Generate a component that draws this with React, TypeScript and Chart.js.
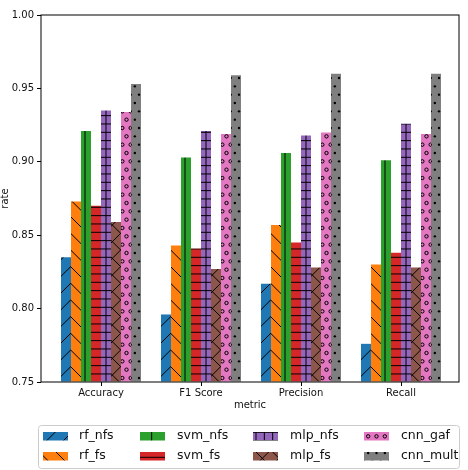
import { useEffect, useRef } from 'react';
import { Chart, registerables } from 'chart.js';

Chart.register(...registerables);

// Metrics on the x axis
const categories = ['Accuracy', 'F1 Score', 'Precision', 'Recall'];

// One value per metric for every model variant
const rfNfs = [0.835, 0.796, 0.817, 0.776];
const rfFs = [0.873, 0.843, 0.857, 0.830];
const svmNfs = [0.921, 0.903, 0.906, 0.901];
const svmFs = [0.870, 0.841, 0.845, 0.838];
const mlpNfs = [0.935, 0.921, 0.918, 0.926];
const mlpFs = [0.859, 0.827, 0.828, 0.828];
const cnnGaf = [0.934, 0.919, 0.920, 0.919];
const cnnMult = [0.953, 0.959, 0.960, 0.960];

const seriesNames = ['rf_nfs', 'rf_fs', 'svm_nfs', 'svm_fs', 'mlp_nfs', 'mlp_fs', 'cnn_gaf', 'cnn_mult'];
const yTicks = [0.75, 0.8, 0.85, 0.9, 0.95, 1.0];

// Styling per series (tab10 colours with hatch kinds)
const seriesColors = ['#1f77b4', '#ff7f0e', '#2ca02c', '#d62728', '#9467bd', '#8c564b', '#e377c2', '#7f7f7f'];
const seriesHatches = ['/', '\\', '|', '-', '+', 'x', 'o', '.'];

const FONT = 'DejaVu Sans';
const TEXT = '#111';

// Builds a repeating tile: base colour plus black hatch strokes.
function hatchPattern(color: string, kind: string): CanvasPattern {
  const T = 50;
  const wide = T / 3;
  const narrow = T / 6;
  const c = document.createElement('canvas');
  c.width = T;
  c.height = T;
  const g = c.getContext('2d')!;
  g.fillStyle = color;
  g.fillRect(0, 0, T, T);
  g.strokeStyle = '#000';
  g.fillStyle = '#000';
  g.lineWidth = 1;
  const line = (x1: number, y1: number, x2: number, y2: number) => {
    g.beginPath();
    g.moveTo(x1, y1);
    g.lineTo(x2, y2);
    g.stroke();
  };
  const diagUp = (off: number) => {
    for (let k = -1; k <= 7; k++) {
      const s = off + k * wide;
      line(s, 0, s - T, T);
    }
  };
  const diagDown = (off: number) => {
    for (let k = -4; k <= 4; k++) {
      const s = off + k * wide;
      line(s, 0, s + T, T);
    }
  };
  const lattice = (draw: (x: number, y: number) => void, ox: number, oy: number) => {
    for (let r = -1; r <= 7; r++) {
      const y = oy + r * narrow;
      const shift = ((r % 2) + 2) % 2 === 1 ? narrow / 2 : 0;
      for (let k = -1; k <= 7; k++) draw(ox + shift + k * narrow, y);
    }
  };
  switch (kind) {
    case '/':
      diagUp(4);
      break;
    case '\\':
      diagDown(4);
      break;
    case '|':
      for (let k = -1; k <= 3; k++) line(1.67 + k * wide, 0, 1.67 + k * wide, T);
      break;
    case '-':
      for (let k = -1; k <= 6; k++) line(0, 7.3 + k * narrow, T, 7.3 + k * narrow);
      break;
    case '+':
      for (let k = -1; k <= 6; k++) {
        line(0, 7.3 + k * narrow, T, 7.3 + k * narrow);
        line(6 + k * narrow, 0, 6 + k * narrow, T);
      }
      break;
    case 'x':
      diagUp(4);
      diagDown(4);
      break;
    case 'o':
      lattice((x, y) => {
        g.beginPath();
        g.arc(x, y, 1.7, 0, Math.PI * 2);
        g.stroke();
      }, 1.5, 3);
      break;
    case '.':
      lattice((x, y) => {
        g.beginPath();
        g.arc(x, y, 1.2, 0, Math.PI * 2);
        g.fill();
      }, 1.5, 3);
      break;
  }
  return g.createPattern(c, 'repeat')!;
}

export default function App() {
  const ref = useRef<HTMLCanvasElement>(null);

  useEffect(() => {
    const canvas = ref.current;
    if (!canvas) return;
    const series = [rfNfs, rfFs, svmNfs, svmFs, mlpNfs, mlpFs, cnnGaf, cnnMult];
    const fills = seriesColors.map((c, i) => hatchPattern(c, seriesHatches[i]));

    const datasets = seriesNames.map((name, i) => ({
      label: name,
      data: series[i].map((v, j) => ({ x: j, y: v })),
      backgroundColor: fills[i],
      borderWidth: 0,
      categoryPercentage: 0.8,
      barPercentage: 1.0,
      base: yTicks[0],
      clip: 0,
    }));

    // Box around the plot area (all four spines)
    const frame = {
      id: 'frame',
      afterDatasetsDraw(chart: any) {
        const { ctx, chartArea: a } = chart;
        ctx.save();
        ctx.strokeStyle = '#000';
        ctx.lineWidth = 1;
        ctx.strokeRect(a.left, a.top, a.right - a.left, a.bottom - a.top);
        ctx.restore();
      },
    };

    // Four-column legend, filled column by column
    const legend = {
      id: 'hatchLegend',
      afterDraw(chart: any) {
        const ctx: CanvasRenderingContext2D = chart.ctx;
        ctx.save();
        const bx = 38.5, by = 425.5, bw = 421, bh = 43, r = 3;
        ctx.beginPath();
        ctx.moveTo(bx + r, by);
        ctx.lineTo(bx + bw - r, by);
        ctx.arcTo(bx + bw, by, bx + bw, by + r, r);
        ctx.lineTo(bx + bw, by + bh - r);
        ctx.arcTo(bx + bw, by + bh, bx + bw - r, by + bh, r);
        ctx.lineTo(bx + r, by + bh);
        ctx.arcTo(bx, by + bh, bx, by + bh - r, r);
        ctx.lineTo(bx, by + r);
        ctx.arcTo(bx, by, bx + r, by, r);
        ctx.closePath();
        ctx.fillStyle = 'rgba(255,255,255,0.8)';
        ctx.fill();
        ctx.strokeStyle = '#cccccc';
        ctx.lineWidth = 1;
        ctx.stroke();

        const patchX = [43, 140, 253, 364];
        const textX = [79, 177, 290, 401];
        const rowY = [436, 456];
        ctx.font = `12.5px "${FONT}"`;
        ctx.textBaseline = 'middle';
        ctx.textAlign = 'left';
        seriesNames.forEach((name, i) => {
          const col = Math.floor(i / 2);
          const row = i % 2;
          const cy = rowY[row];
          ctx.fillStyle = fills[i];
          ctx.fillRect(patchX[col], cy - 4, 25, 8.5);
          ctx.fillStyle = TEXT;
          ctx.fillText(name, textX[col], cy);
        });
        ctx.restore();
      },
    };

    const chart = new Chart(canvas, {
      type: 'bar',
      data: { datasets: datasets as any },
      options: {
        responsive: false,
        animation: false,
        events: [],
        layout: { padding: { top: 15, right: 9, bottom: 59, left: 0 } },
        plugins: {
          legend: { display: false },
          tooltip: { enabled: false },
        },
        scales: {
          x: {
            type: 'linear',
            min: -0.6,
            max: 3.58,
            offset: false,
            afterBuildTicks: (s: any) => {
              s.ticks = categories.map((_, i) => ({ value: i }));
            },
            afterFit: (s: any) => {
              s.height = 29;
            },
            ticks: {
              callback: (v: any) => categories[v] ?? '',
              autoSkip: false,
              maxRotation: 0,
              padding: 1,
              color: TEXT,
              font: { family: FONT, size: 10 },
            },
            grid: { offset: false, drawOnChartArea: false, drawTicks: true, tickLength: 4, color: '#000', lineWidth: 1 },
            border: { display: false },
            title: {
              display: true,
              text: 'metric',
              color: TEXT,
              padding: 0,
              font: { family: FONT, size: 10 },
            },
          },
          y: {
            min: 0.75,
            max: 1.0,
            afterBuildTicks: (s: any) => {
              s.ticks = yTicks.map((v) => ({ value: v }));
            },
            afterFit: (s: any) => {
              s.width = 41;
            },
            ticks: {
              callback: (v: any) => Number(v).toFixed(2),
              padding: 3,
              color: TEXT,
              font: { family: FONT, size: 10 },
            },
            grid: { drawOnChartArea: false, drawTicks: true, tickLength: 4, color: '#000', lineWidth: 1 },
            border: { display: false },
            title: {
              display: true,
              text: 'rate',
              color: TEXT,
              padding: 0,
              font: { family: FONT, size: 10, lineHeight: 1 },
            },
          },
        },
      },
      plugins: [frame, legend],
    });

    return () => chart.destroy();
  }, []);

  return (
    <div style={{ position: 'fixed', left: 0, top: 0, width: 468, height: 470, background: '#fff' }}>
      <canvas ref={ref} width={468} height={470} style={{ display: 'block', width: 468, height: 470 }} />
    </div>
  );
}
